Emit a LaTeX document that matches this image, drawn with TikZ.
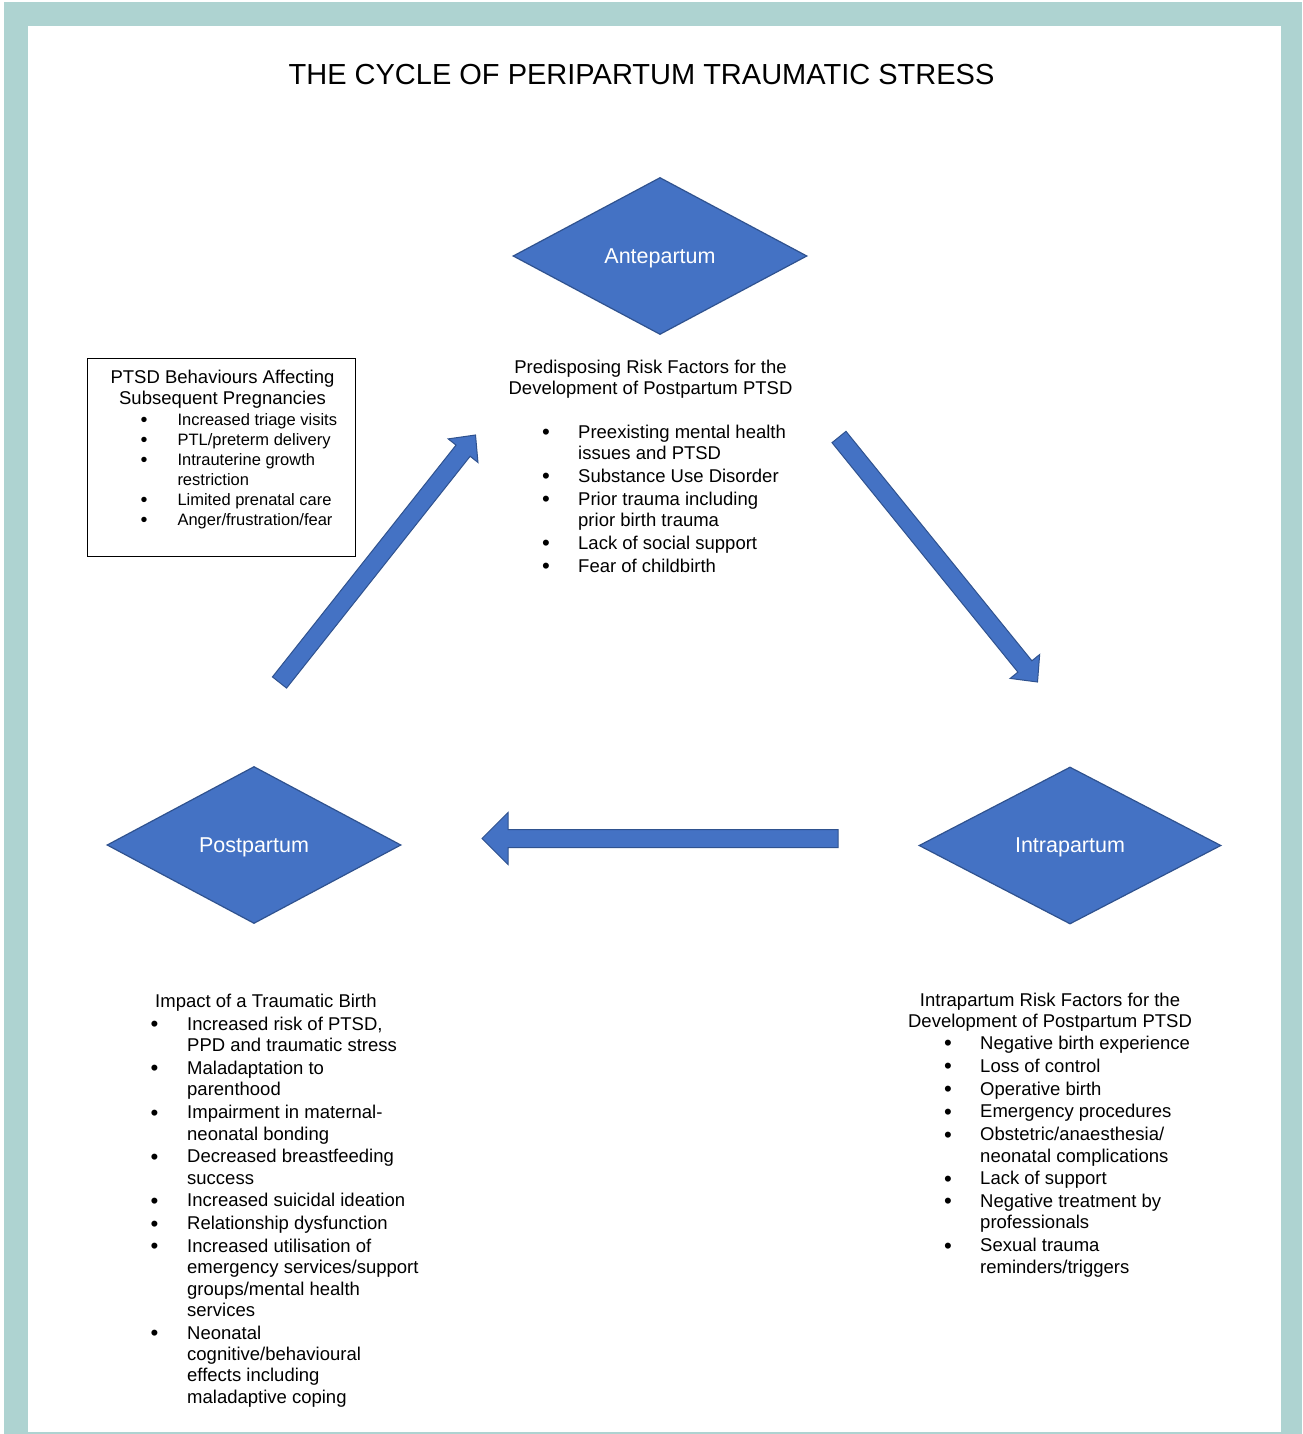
\documentclass[tikz,border=0pt]{standalone}
\usepackage{fontspec}
\setmainfont{Liberation Sans}
\usetikzlibrary{shapes.geometric, calc}
\definecolor{phaseblue}{HTML}{4472C4}
\definecolor{phaseline}{HTML}{2F528F}
\definecolor{frameteal}{HTML}{AED3D1}

% a slightly larger bullet, as in the word-processor lists
\newcommand{\bul}{\raisebox{-0.07em}{\scalebox{1.2}{\textbullet}}}

% block arrow from a tail coordinate to a tip coordinate
\newcommand{\blockarrow}[4]{% tail, tip, head half-width, head length
  \coordinate (hb) at ($(#2)!#4!(#1)$);
  \draw[barrow] ($(#1)!9pt!90:(#2)$) -- ($(hb)!9pt!90:(#2)$) -- ($(hb)!#3!90:(#2)$)
    -- (#2) -- ($(hb)!#3!-90:(#2)$) -- ($(hb)!9pt!-90:(#2)$) -- ($(#1)!9pt!-90:(#2)$) -- cycle;}

\begin{document}
\begin{tikzpicture}[x=1pt, y=-1pt,
  phase/.style={diamond, draw=phaseline, fill=phaseblue, line width=1.2pt, inner sep=0pt,
    minimum width=294pt, minimum height=157pt, text=white, text depth=0pt,
    font=\fontsize{21.5}{26}\selectfont},
  txt/.style={inner sep=0pt, font=\fontsize{18.5}{21.3}\selectfont},
  small/.style={inner sep=0pt, font=\fontsize{16.5}{20}\selectfont},
  barrow/.style={draw=phaseline, fill=phaseblue, line width=1pt}]
  % page and teal frame
  \useasboundingbox (0,0) rectangle (1302,1434);
  \fill[white] (0,0) rectangle (1302,1434);
  \fill[frameteal] (4,2) rectangle (1302,1434);
  \fill[white] (28,26) rectangle (1281,1432);

  \node[inner sep=0pt, anchor=base, font=\fontsize{29}{34}\selectfont] (title) at (641.5,85)
    {THE CYCLE OF PERIPARTUM TRAUMATIC STRESS};

  \node[phase] (ante) at (660,256) {Antepartum};
  \node[phase] (post) at (254,845) {Postpartum};
  \node[phase, minimum width=302pt] (intra) at (1070,845.5) {Intrapartum};

  % antepartum risk factors
  \node[txt, anchor=base] (anteHead) at (650.5,373.5) {\begin{tabular}[t]{@{}c@{}}
    Predisposing Risk Factors for the\\ Development of Postpartum PTSD\end{tabular}};
  \node[txt, anchor=base west] (anteList) at (542,438.5) {\begin{tabular}[t]{@{}p{36pt}@{}l@{}}
    \bul & Preexisting mental health\\
         & issues and PTSD\\[1.5pt]
    \bul & Substance Use Disorder\\[1.5pt]
    \bul & Prior trauma including\\
         & prior birth trauma\\[1.5pt]
    \bul & Lack of social support\\[1.5pt]
    \bul & Fear of childbirth
  \end{tabular}};

  % behaviours box
  \node[draw, line width=0.8pt, inner sep=0pt, anchor=north west, minimum width=268pt,
    minimum height=198pt] (ptsd) at (87,358) {};
  \node[txt, font=\fontsize{18.5}{21}\selectfont, anchor=base] (ptsdHead) at (222.5,383.5)
    {\begin{tabular}[t]{@{}c@{}}PTSD Behaviours Affecting\\ Subsequent Pregnancies\end{tabular}};
  \node[small, anchor=base west] (ptsdList) at (140.3,425) {\begin{tabular}[t]{@{}p{37pt}@{}l@{}}
    \bul & Increased triage visits\\
    \bul & PTL/preterm delivery\\
    \bul & Intrauterine growth\\
         & restriction\\
    \bul & Limited prenatal care\\
    \bul & Anger/frustration/fear
  \end{tabular}};

  % postpartum impact
  \node[txt, anchor=base west] (postHead) at (155,1007.5) {Impact of a Traumatic Birth};
  \node[txt, anchor=base west] (postList) at (150.5,1030.5) {\begin{tabular}[t]{@{}p{36.5pt}@{}l@{}}
    \bul & Increased risk of PTSD,\\
         & PPD and traumatic stress\\[1.5pt]
    \bul & Maladaptation to\\
         & parenthood\\[1.5pt]
    \bul & Impairment in maternal-\\
         & neonatal bonding\\[1.5pt]
    \bul & Decreased breastfeeding\\
         & success\\[1.5pt]
    \bul & Increased suicidal ideation\\[1.5pt]
    \bul & Relationship dysfunction\\[1.5pt]
    \bul & Increased utilisation of\\
         & emergency services/support\\
         & groups/mental health\\
         & services\\[1.5pt]
    \bul & Neonatal\\
         & cognitive/behavioural\\
         & effects including\\
         & maladaptive coping
  \end{tabular}};

  % intrapartum risk factors
  \node[txt, anchor=base] (intraHead) at (1050,1006.5) {\begin{tabular}[t]{@{}c@{}}
    Intrapartum Risk Factors for the\\ Development of Postpartum PTSD\end{tabular}};
  \node[txt, anchor=base west] (intraList) at (944,1049.5) {\begin{tabular}[t]{@{}p{36pt}@{}l@{}}
    \bul & Negative birth experience\\[1.5pt]
    \bul & Loss of control\\[1.5pt]
    \bul & Operative birth\\[1.5pt]
    \bul & Emergency procedures\\[1.5pt]
    \bul & Obstetric/anaesthesia/\\
         & neonatal complications\\[1.5pt]
    \bul & Lack of support\\[1.5pt]
    \bul & Negative treatment by\\
         & professionals\\[1.5pt]
    \bul & Sexual trauma\\
         & reminders/triggers
  \end{tabular}};

  % cycle arrows
  \coordinate (upTail) at (279.5,682.5);
  \coordinate (upTip) at (475.5,435);
  \coordinate (downTail) at (839,437);
  \coordinate (downTip) at (1037.5,682);
  \coordinate (backTail) at (838,838.5);
  \coordinate (backTip) at (482,838.5);
  \blockarrow{upTail}{upTip}{19pt}{20pt}
  \blockarrow{downTail}{downTip}{19pt}{20pt}
  \blockarrow{backTail}{backTip}{26pt}{26pt}
\end{tikzpicture}
\end{document}
